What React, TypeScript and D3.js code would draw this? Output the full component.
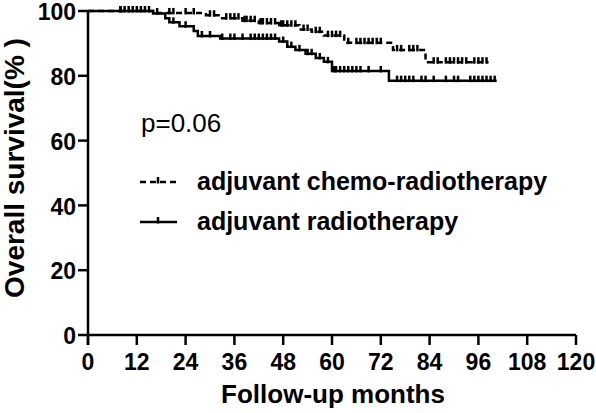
import React from "react";
import * as d3 from "d3";

const W = 596;
const H = 413;

// Kaplan-Meier step data: [month, survival %]
const chemoTimes = [0, 16, 29, 32.5, 38, 42, 47, 52, 55, 58, 63, 75, 83, 98.5];
const chemoSurv = [100, 99.4, 98.7, 97.8, 97.0, 96.3, 95.6, 94.3, 93.6, 92.4, 90.2, 88.0, 84.2, 84.2];
const chemoCensor = [8, 10, 12, 14, 17, 20, 21, 24, 26, 30, 31, 34, 35, 36, 37, 38.5, 39, 40, 41, 42.5, 43, 44, 45, 46, 47.5, 48, 49, 50, 51, 53, 54, 56, 57, 59, 60, 61, 62, 64, 66, 67, 68, 69, 70, 71, 72, 76, 77, 79, 80, 81, 85, 86, 88, 89, 90, 91, 92, 93, 95, 96, 97, 98];

const radioTimes = [0, 16, 19, 20, 22.5, 26, 27, 32.5, 47, 49, 51, 53.5, 56, 58, 60, 74, 100.5];
const radioSurv = [100, 99.2, 97.8, 96.5, 95.3, 93.8, 92.3, 91.5, 90.6, 89.0, 88.0, 86.8, 85.5, 84.3, 81.5, 78.5, 78.5];
const radioCensor = [8, 9, 11, 13, 15, 21, 24, 28, 30, 33, 35, 36, 38, 40, 41, 42, 43, 44, 45, 46, 48, 50, 52, 54, 55, 57, 59, 60.5, 61, 62, 63, 64, 65, 66, 67, 69, 72, 76, 77, 78, 79, 80, 82, 83, 85, 88, 90, 91, 94, 95, 96, 97, 98, 99, 100];

const xTicks = [0, 12, 24, 36, 48, 60, 72, 84, 96, 108, 120];
const yTicks = [0, 20, 40, 60, 80, 100];

const legendLabels = ["adjuvant chemo-radiotherapy", "adjuvant radiotherapy"];
const pText = "p=0.06";
const xTitle = "Follow-up months";
const yTitle = "Overall survival(% )";

const FONT = "'Liberation Sans', Arial, Helvetica, sans-serif";

function survAt(times: number[], surv: number[], t: number) {
  let s = surv[0];
  for (let i = 0; i < times.length; i++) {
    if (times[i] <= t) s = surv[i];
  }
  return s;
}

export default function App() {
  const x = d3.scaleLinear().domain([0, 120]).range([88, 576]);
  const y = d3.scaleLinear().domain([0, 100]).range([335, 11]);

  const line = d3
    .line<[number, number]>()
    .x((d) => x(d[0]))
    .y((d) => y(d[1]))
    .curve(d3.curveStepAfter);

  const chemoPts = chemoTimes.map((t, i) => [t, chemoSurv[i]] as [number, number]);
  const radioPts = radioTimes.map((t, i) => [t, radioSurv[i]] as [number, number]);

  const sw = 2.5;

  const censorMarks = (times: number[], tt: number[], ss: number[]) =>
    times.map((t, i) => {
      const cy = y(survAt(tt, ss, t));
      return <line key={i} x1={x(t)} x2={x(t)} y1={cy - 5} y2={cy + 1.5} stroke="#000" strokeWidth={2.5} />;
    });

  return (
    <svg width={W} height={H} style={{ position: "absolute", left: 0, top: 0, background: "#fff" }} fontFamily={FONT}>
      <rect width={W} height={H} fill="#fff" />
      {/* curves */}
      <path d={line(chemoPts) || ""} fill="none" stroke="#000" strokeWidth={sw} strokeDasharray="6,4" />
      {censorMarks(chemoCensor, chemoTimes, chemoSurv)}
      <path d={line(radioPts) || ""} fill="none" stroke="#000" strokeWidth={sw} />
      {censorMarks(radioCensor, radioTimes, radioSurv)}

      {/* y axis */}
      <line x1={x(0)} x2={x(0)} y1={y(100)} y2={y(0) + 10} stroke="#000" strokeWidth={2.5} />
      {yTicks.map((t) => (
        <g key={t}>
          <line x1={x(0) - 10} x2={x(0)} y1={y(t)} y2={y(t)} stroke="#000" strokeWidth={2.5} />
          <text x={x(0) - 12} y={y(t)} dy="0.4em" textAnchor="end" fontSize={23} fontWeight="bold">
            {t}
          </text>
        </g>
      ))}
      {/* x axis */}
      <line x1={x(0)} x2={x(120)} y1={y(0)} y2={y(0)} stroke="#000" strokeWidth={2.5} />
      {xTicks.map((t) => (
        <g key={t}>
          <line x1={x(t)} x2={x(t)} y1={y(0)} y2={y(0) + 10} stroke="#000" strokeWidth={2.5} />
          <text x={x(t)} y={y(0) + 35} textAnchor="middle" fontSize={23} fontWeight="bold">
            {t}
          </text>
        </g>
      ))}

      {/* titles */}
      <text x={333} y={403} textAnchor="middle" fontSize={26} fontWeight="bold">
        {xTitle}
      </text>
      <text transform={`translate(24,${168}) rotate(-90)`} textAnchor="middle" fontSize={28} fontWeight="bold">
        {yTitle}
      </text>

      {/* p value */}
      <text x={141} y={132} fontSize={26}>
        {pText}
      </text>

      {/* legend */}
      <g>
        <line x1={140} x2={177} y1={182} y2={182} stroke="#000" strokeWidth={sw} strokeDasharray="6,4" />
        <line x1={158} x2={158} y1={177} y2={183.5} stroke="#000" strokeWidth={2.5} />
        <text x={197} y={190} fontSize={25} fontWeight="bold">
          {legendLabels[0]}
        </text>
        <line x1={140} x2={177} y1={222} y2={222} stroke="#000" strokeWidth={sw} />
        <line x1={158} x2={158} y1={217} y2={223.5} stroke="#000" strokeWidth={2.5} />
        <text x={197} y={230} fontSize={25} fontWeight="bold">
          {legendLabels[1]}
        </text>
      </g>
    </svg>
  );
}
